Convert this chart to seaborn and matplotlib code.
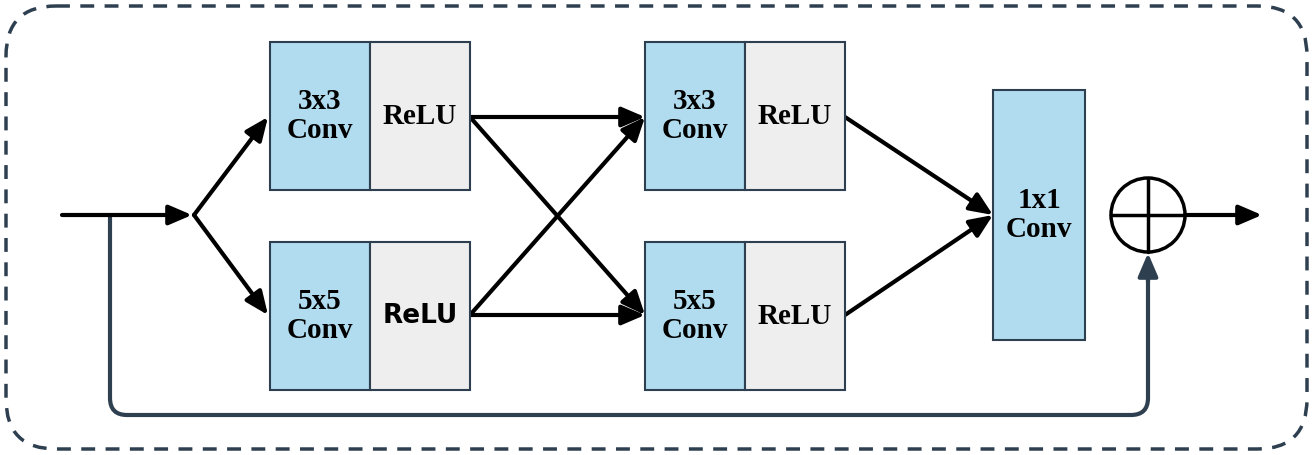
import matplotlib
matplotlib.use('Agg')
import matplotlib.pyplot as plt
from matplotlib.patches import Rectangle, FancyBboxPatch, Circle, FancyArrowPatch, PathPatch
from matplotlib.path import Path
import seaborn as sns

sns.set_style('white')

# --- Diagram content ---
conv_labels = ['3x3\nConv', '5x5\nConv', '3x3\nConv', '5x5\nConv']
relu_labels = ['ReLU', 'ReLU', 'ReLU', 'ReLU']
relu_fonts = ['Liberation Serif', 'DejaVu Sans', 'Liberation Serif', 'Liberation Serif']
block_x = [270, 270, 645, 645]
block_y = [42, 242, 42, 242]
final_label = '1x1\nConv'

BLUE = '#b1dcef'
GREY = '#eeeeee'
EDGE = '#2e3f50'
W, H = 1313, 455

fig = plt.figure(figsize=(W / 100, H / 100), dpi=100)
ax = fig.add_axes([0, 0, 1, 1])
ax.set_xlim(0, W)
ax.set_ylim(H, 0)
ax.axis('off')

# outer dashed frame
ax.add_patch(FancyBboxPatch((6, 6), W - 12, H - 12, boxstyle='round,pad=0,rounding_size=50',
                            fill=False, ec=EDGE, lw=2.5, ls=(0, (4, 3))))

for cl, rl, rf, x, y in zip(conv_labels, relu_labels, relu_fonts, block_x, block_y):
    ax.add_patch(Rectangle((x, y), 100, 148, fc=BLUE, ec=EDGE, lw=1.5, zorder=3))
    ax.add_patch(Rectangle((x + 100, y), 100, 148, fc=GREY, ec=EDGE, lw=1.5, zorder=3))
    ax.text(x + 50, y + 74, cl, ha='center', va='center', fontsize=21, fontweight='bold',
            family='Liberation Serif', linespacing=1.05, color='black', zorder=4)
    ax.text(x + 150, y + 74, rl, ha='center', va='center', fontsize=21 if rf != 'DejaVu Sans' else 19,
            fontweight='bold', family=rf, color='black', zorder=4)

ax.add_patch(Rectangle((993, 90), 92, 250, fc=BLUE, ec=EDGE, lw=1.5, zorder=3))
ax.text(1039, 215, final_label, ha='center', va='center', fontsize=21, fontweight='bold',
        family='Liberation Serif', linespacing=1.05, color='black', zorder=4)

# sum node
cx, cy, r = 1148, 215, 37
ax.add_patch(Circle((cx, cy), r, fill=False, ec='black', lw=2.5))
ax.plot([cx - r, cx + r], [cy, cy], color='black', lw=2.5)
ax.plot([cx, cx], [cy - r, cy + r], color='black', lw=2.5)


def arrow(p0, p1, color='black'):
    ax.add_patch(FancyArrowPatch(p0, p1, arrowstyle='-|>,head_length=14,head_width=6',
                                 color=color, lw=3, shrinkA=0, shrinkB=0, zorder=2))


arrow((62, 215), (192, 215))
arrow((194, 215), (268, 117))
arrow((194, 215), (268, 315))
for ys in (117, 315):
    for ye in (117, 315):
        arrow((470, ys), (645, ye))
arrow((845, 117), (993, 215))
arrow((845, 315), (993, 215))
arrow((1185, 215), (1262, 215))

# skip connection with rounded corners
yb, rc = 415, 17
verts = [(110, 215), (110, yb - rc), (110, yb), (110 + rc, yb),
         (cx - rc, yb), (cx, yb), (cx, yb - rc), (cx, 280)]
codes = [Path.MOVETO, Path.LINETO, Path.CURVE3, Path.CURVE3,
         Path.LINETO, Path.CURVE3, Path.CURVE3, Path.LINETO]
ax.add_patch(PathPatch(Path(verts, codes), fill=False, ec=EDGE, lw=3))
arrow((cx, 282), (cx, cy + r + 1), color=EDGE)

fig.savefig('out.png', dpi=100)
